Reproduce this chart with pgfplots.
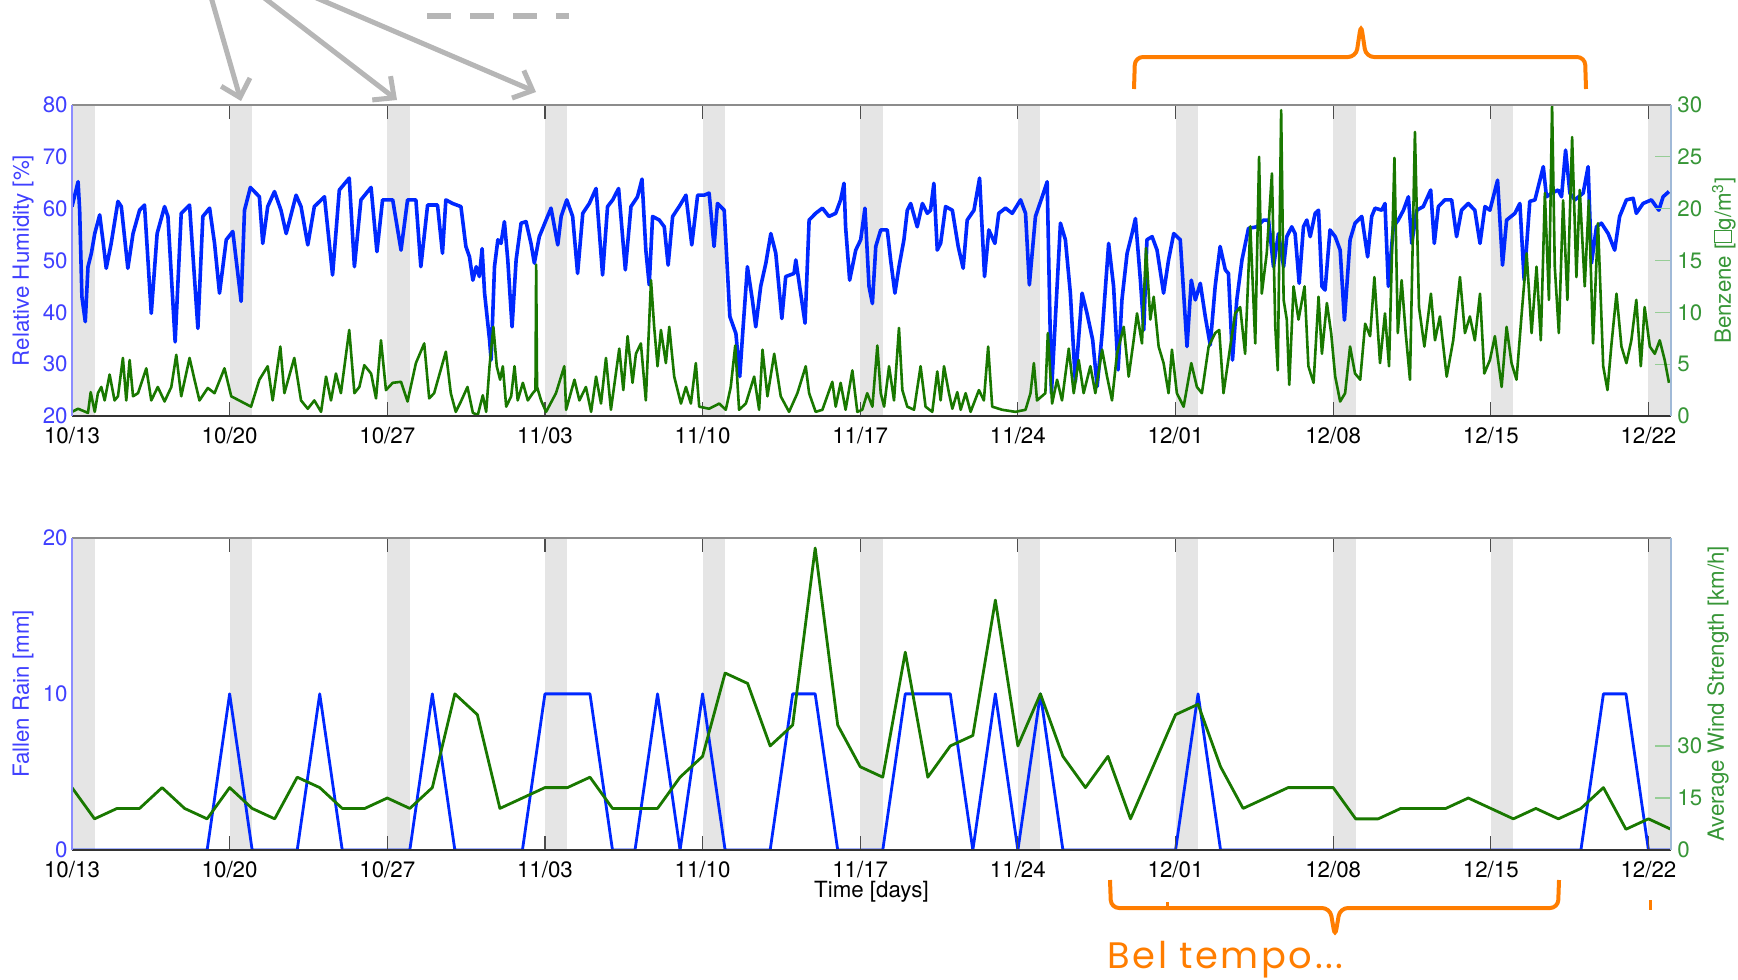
\documentclass[border=0pt]{standalone}
\usepackage{pgfplots}
\pgfplotsset{compat=1.18}
\usepackage{fontspec}
\setmainfont{TeX Gyre Heros}
\newfontfamily\annofont[LetterSpace=7]{Poppins}
\usetikzlibrary{arrows.meta}
\definecolor{rhblue}{RGB}{0,40,255}
\definecolor{bzgreen}{RGB}{25,120,0}
\definecolor{tkblue}{RGB}{64,64,255}
\definecolor{tkgreen}{RGB}{55,150,55}
\definecolor{bandgray}{RGB}{229,229,229}
\definecolor{anno}{RGB}{255,125,0}
\definecolor{arrowgray}{RGB}{182,182,182}
\definecolor{spinegray}{RGB}{140,140,140}
\definecolor{lspine}{RGB}{140,140,255}
\definecolor{rspine}{RGB}{160,185,215}
\definecolor{tickgreen}{RGB}{150,205,150}
\newcommand{\tofu}{{\setlength{\fboxsep}{0pt}\setlength{\fboxrule}{0.45pt}\fbox{\vrule width 0pt height 0.7em\hspace{0.5em}}}}
\newcommand{\axfont}{\fontsize{11.2}{13.4}\selectfont}
\newcommand{\bands}[2]{%
  \fill[bandgray] (axis cs:0,#1) rectangle (axis cs:1,#2);
  \fill[bandgray] (axis cs:7,#1) rectangle (axis cs:8,#2);
  \fill[bandgray] (axis cs:14,#1) rectangle (axis cs:15,#2);
  \fill[bandgray] (axis cs:21,#1) rectangle (axis cs:22,#2);
  \fill[bandgray] (axis cs:28,#1) rectangle (axis cs:29,#2);
  \fill[bandgray] (axis cs:35,#1) rectangle (axis cs:36,#2);
  \fill[bandgray] (axis cs:42,#1) rectangle (axis cs:43,#2);
  \fill[bandgray] (axis cs:49,#1) rectangle (axis cs:50,#2);
  \fill[bandgray] (axis cs:56,#1) rectangle (axis cs:57,#2);
  \fill[bandgray] (axis cs:63,#1) rectangle (axis cs:64,#2);
  \fill[bandgray] (axis cs:70,#1) rectangle (axis cs:71,#2);}
\newcommand{\spines}{%
  \draw[spinegray, line width=1bp] (rel axis cs:0,1) -- (rel axis cs:1,1);
  \draw[black!80, line width=0.8bp] (rel axis cs:0,0) -- (rel axis cs:1,0);
  \draw[lspine, line width=0.6bp] (rel axis cs:0,0) -- (rel axis cs:0,1);
  \draw[rspine, line width=0.6bp] (rel axis cs:1,0) -- (rel axis cs:1,1);}
\pgfplotsset{
  panel/.style={scale only axis, width=799.5bp, xmin=0, xmax=71, anchor=north west,
    tick align=inside, major tick length=7bp,
    /pgf/number format/assume math mode=true,
    tick label style={font=\axfont},
    axis line style={draw=none},
    clip mode=individual},
  leftpanel/.style={panel, axis on top,
    xtick={0,7,...,70},
    xticklabels={10/13,10/20,10/27,11/03,11/10,11/17,11/24,12/01,12/08,12/15,12/22},
    xtick pos=both, xticklabel pos=left,
    x tick style={black!70, line width=0.6bp},
    xticklabel style={text=black, inner sep=0pt, yshift=-5.5bp},
    ytick pos=left, y tick style={draw=none},
    yticklabel style={text=tkblue, inner sep=2bp},
    every axis y label/.style={at={(axis description cs:-0.0306,0.5)}, rotate=90, anchor=center, text=tkblue, font=\axfont}},
  rightpanel/.style={panel, hide x axis,
    ytick pos=right, yticklabel pos=right, major tick length=8bp,
    y tick style={tickgreen, line width=0.6bp},
    yticklabel style={text=tkgreen, inner sep=3bp}},
}
\begin{document}
\begin{tikzpicture}
\path[use as bounding box] (0,0) rectangle (869bp,-490bp);

% ---------------- top panel: humidity (left) ----------------
\begin{axis}[leftpanel, at={(36bp,-52.5bp)}, height=155.5bp,
  ymin=20, ymax=80, ytick={20,30,...,80},
  ylabel={Relative Humidity [\%]}]
\bands{20}{80}
\addplot[rhblue, line width=1.8bp, line join=round] coordinates {
(0,60.4)(0.27,65.2)(0.34,59.7)(0.44,43)(0.59,38.2)(0.71,48.8)(0.86,51.4)(1.01,55.2)(1.23,58.8)(1.37,54)(1.52,48.5)(1.74,53.3)(2.04,61.4)(2.19,60.4)(2.48,48.5)(2.71,55.2)(3,59.7)(3.22,60.7)(3.52,39.8)(3.78,55.2)(4.11,60.4)(4.26,58.5)(4.58,34.3)(4.85,59.1)(5.22,60.7)(5.59,36.9)(5.81,58.5)(6.11,60.1)(6.33,53.3)(6.55,43.7)(6.85,54)(7.14,55.6)(7.51,42.1)(7.66,59.7)(7.92,64.1)(8.32,62.3)(8.47,53.3)(8.69,60.4)(8.99,63.3)(9.28,59.7)(9.51,55.2)(9.95,62.6)(10.17,60.4)(10.47,53)(10.76,60.4)(11.21,62.3)(11.57,47.2)(11.87,63.6)(12.31,65.9)(12.54,48.8)(12.83,61.7)(13.28,64.1)(13.54,51.7)(13.79,61.7)(14.24,61.7)(14.61,52)(14.9,61.7)(15.27,61.7)(15.49,48.8)(15.79,60.7)(16.23,60.7)(16.45,51.4)(16.6,61.7)(16.9,61)(17.27,60.4)(17.49,52.7)
(17.65,50.7)(17.8,46.2)(17.95,48.8)(18.09,46.9)(18.21,52.3)(18.32,43.7)(18.54,34.7)(18.61,30.8)(18.76,48.8)(18.91,54)(19.05,53.3)(19.2,57.5)(19.35,50.1)(19.54,37.2)(19.72,50.1)(19.94,57.2)(20.16,57.5)(20.38,53.3)(20.53,49.5)(20.75,54.6)(21.05,57.8)(21.27,60.1)(21.57,53)(21.72,58.5)(21.97,61.7)(22.23,58.5)(22.45,47.5)(22.68,59.1)(22.97,61)(23.27,63.9)(23.56,47.2)(23.78,60.4)(24.01,61.7)(24.27,63.9)(24.57,48.2)(24.82,60.4)(25.11,62.3)(25.31,65.7)(25.48,52)(25.63,45.3)(25.78,58.5)(26.08,57.8)(26.3,56.5)(26.47,49.1)(26.67,58.5)(26.96,60.4)(27.26,62.6)(27.52,53)(27.78,62.6)(28.07,62.6)(28.29,63)(28.51,52.7)(28.66,61)(28.96,59.7)(29.21,39.2)(29.48,35.9)(29.65,27.6)(29.77,35.3)(29.99,48.8)(30.21,42.4)(30.36,37.2)(30.58,45)(30.81,49.5)(31.03,55.2)(31.25,51.4)(31.52,38.8)(31.69,46.9)(32.06,47.5)(32.14,50.1)(32.31,45)(32.55,37.9)(32.73,57.8)(33.02,59.1)(33.32,60.1)(33.61,58.5)(33.91,59.1)(34.13,61.7)(34.28,64.9)(34.35,56.5)(34.53,46.2)(34.8,52)(35.02,54)(35.21,60.1)
(35.39,45)(35.54,41.7)(35.69,52.7)(35.91,55.9)(36.2,55.9)(36.35,50.1)(36.54,43.7)(36.72,48.8)(36.94,54)(37.09,59.7)(37.24,61)(37.53,56.5)(37.76,61)(37.98,59.1)(38.12,59.7)(38.27,64.9)(38.42,52)(38.57,53.3)(38.79,60.4)(39.09,59.7)(39.35,52.7)(39.57,48.5)(39.75,57.8)(40.05,59.7)(40.3,65.9)(40.52,46.9)(40.71,55.9)(40.98,53.3)(41.15,59.1)(41.45,60.1)(41.75,59.1)(42.12,61.7)(42.34,59.1)(42.51,45.3)(42.78,58.5)(43.08,62.3)(43.3,65.2)(43.49,24.4)(43.67,39.2)(43.89,57.2)(44.11,54)(44.33,43.7)(44.55,26.6)(44.85,43.7)(45.07,39.8)(45.32,34.7)(45.52,25.7)(45.74,35.9)(46.03,53.3)(46.25,45)(46.45,28.9)(46.62,42.4)(46.85,51.4)(47.07,55.2)(47.22,58.1)(47.44,46.2)(47.59,36.6)(47.73,54)(47.96,54.6)(48.18,52)(48.47,43.7)(48.69,50.1)(48.92,55.2)(49.21,54)(49.51,33.4)(49.7,46.2)(49.88,42.4)(50.1,45.6)(50.32,39.2)(50.54,33.7)(50.76,45)(50.98,52.7)(51.21,48.2)(51.35,47.5)(51.53,30.8)(51.72,42.4)(51.95,50.1)(52.24,56.2)(52.61,56.5)(52.91,57.8)
(53.13,57.8)(53.35,48.8)(53.57,55.2)(53.8,48.8)(53.94,54.6)(54.16,56.5)(54.31,55.2)(54.49,45.6)(54.68,56.5)(54.83,57.8)(54.98,54.6)(55.2,59.1)(55.35,59.7)(55.5,45)(55.64,44.3)(55.86,55.9)(56.09,54.6)(56.31,52)(56.5,38.5)(56.75,54)(56.97,57.2)(57.27,58.5)(57.53,50.7)(57.71,58.5)(57.86,60.1)(58.16,59.7)(58.3,61)(58.45,45)(58.67,56.5)(58.89,57.8)(59.12,59.7)(59.34,62.3)(59.49,53.3)(59.71,59.7)(60,60.4)(60.33,63.6)(60.49,53.3)(60.67,60.4)(60.96,61.7)(61.26,61.7)(61.48,54.6)(61.7,59.7)(62,61)(62.29,59.7)(62.52,53.3)(62.74,60.4)(62.96,59.7)(63.3,65.5)(63.52,49.1)(63.7,57.8)(64.07,59.1)(64.29,61)(64.48,46.2)(64.73,61.4)(64.96,61.7)(65.33,68.1)(65.47,62.3)(65.7,63)(65.99,63.6)(66.14,62.3)(66.32,71.3)(66.51,63)(66.73,61.7)(67.1,63)(67.32,68.1)(67.47,49.5)(67.69,56.5)(67.91,57.2)(68.21,55.2)(68.5,52)(68.72,58.5)(69.02,61.7)(69.32,62)(69.46,59.1)(69.76,61)(70.13,61.7)(70.46,59.7)(70.65,62.3)(70.91,63.3)
};
\end{axis}

% ---------------- top panel: benzene (right) ----------------
\begin{axis}[rightpanel, at={(36bp,-52.5bp)}, height=155.5bp,
  ymin=0, ymax=30, ytick={0,5,...,30},
  ylabel={Benzene [\tofu g/m\textsuperscript{3}]},
  every axis y label/.style={at={(axis description cs:1.0331,0.5)}, rotate=90, anchor=center, text=tkgreen, font=\axfont}]
\addplot[bzgreen, line width=1.3bp, line join=round] coordinates {
(0,0.4)(0.27,0.7)(0.71,0.3)(0.83,2.3)(1.01,0.4)(1.15,2.2)(1.3,2.8)(1.45,1.5)(1.67,4.0)(1.89,1.5)(2.04,1.9)(2.26,5.6)(2.41,1.5)(2.56,5.4)(2.71,1.9)(2.93,2.2)(3.3,4.6)(3.52,1.5)(3.81,2.8)(4.11,1.4)(4.41,2.8)(4.63,5.9)(4.85,1.9)(5.22,5.6)(5.44,3.5)(5.66,1.5)(6.03,2.7)(6.33,2.2)(6.77,4.6)(7.07,1.9)(7.51,1.4)(7.95,0.9)(8.32,3.5)(8.69,4.8)(8.91,1.5)(9.25,6.7)(9.43,2.2)(9.87,5.6)(10.17,1.5)(10.47,0.7)(10.76,1.5)(11.06,0.4)(11.28,3.8)(11.5,1.5)(11.72,4.1)(11.94,2.2)(12.31,8.3)(12.54,2.2)(12.76,2.8)(12.98,4.9)(13.28,4.1)(13.5,1.7)(13.72,7.3)(13.94,2.5)(14.24,3.2)(14.61,3.3)(14.9,1.4)(15.27,5.1)(15.64,7)(15.86,1.7)(16.08,2.2)(16.6,6.2)(16.82,2.2)(17.04,0.4)(17.27,1.4)(17.56,2.8)
(17.8,0.3)(18.02,0.1)(18.24,2)(18.39,0.4)(18.54,4.8)(18.71,8.6)(18.86,4.8)(19.01,3.5)(19.13,4.8)(19.28,0.9)(19.5,1.9)(19.65,4.8)(19.79,1.5)(20.02,3.2)(20.24,1.5)(20.46,2.2)(20.58,2.5)(20.61,14.6)(20.65,2.8)(20.83,1.5)(21.05,0.4)(21.49,2.2)(21.86,4.8)(21.94,0.6)(22.31,3.5)(22.53,1.5)(22.82,2.8)(23.05,0.4)(23.27,3.8)(23.49,1.2)(23.71,5.6)(23.93,0.6)(24.3,6.5)(24.48,2.5)(24.67,7.7)(24.89,3.2)(25.04,6)(25.26,7)(25.48,1.5)(25.71,13.1)(25.85,8.6)(26.0,4.8)(26.15,8.3)(26.37,5.1)(26.52,8.6)(26.74,3.8)(27.04,1.2)(27.26,2.8)(27.48,1.2)(27.7,5.1)(27.85,0.9)(28.29,0.7)(28.74,1.2)(29.03,0.6)(29.25,2.8)(29.45,6.8)(29.62,0.6)(29.92,1.2)(30.29,3.8)(30.51,0.6)(30.66,6.4)(30.88,1.9)(31.18,6)(31.47,1.9)(31.84,0.4)(32.21,2.2)(32.58,4.8)(32.73,2.2)(33.02,0.4)(33.32,0.6)(33.76,3.3)(33.91,0.9)(34.13,3.2)(34.35,0.6)(34.65,4.4)(34.87,0.4)(35.09,0.6)(35.31,2.2)
(35.54,0.9)(35.76,6.8)(35.91,2.2)(36.06,0.9)(36.28,4.8)(36.5,1.5)(36.72,8.5)(36.87,2.5)(37.09,0.9)(37.39,0.6)(37.68,4.8)(37.9,0.9)(38.2,0.4)(38.42,4.3)(38.57,1.5)(38.72,4.8)(38.94,2.2)(39.09,0.7)(39.31,2.3)(39.46,0.6)(39.68,2.2)(39.9,0.4)(40.27,2.5)(40.49,1.5)(40.68,6.7)(40.86,0.9)(41.3,0.6)(41.89,0.4)(42.34,0.6)(42.56,2.2)(42.71,5.1)(42.85,1.5)(43.22,2.2)(43.33,8)(43.52,1.2)(43.74,3.5)(43.96,1.5)(44.26,6.5)(44.48,2.2)(44.7,5.4)(44.92,2.2)(45.22,4.8)(45.44,2.2)(45.74,6.4)(45.96,3.8)(46.18,1.5)(46.4,6)(46.7,8.6)(46.92,3.8)(47.14,7.3)(47.29,9.9)(47.51,7)(47.69,16.2)(47.88,9.3)(48.03,11.5)(48.25,6.7)(48.47,5.1)(48.69,2.2)(48.84,6.4)(49.06,2.2)(49.36,0.9)(49.7,5.1)(49.95,2.8)(50.17,2.2)(50.47,6.7)(50.76,8)(50.94,8.3)(51.13,2.2)(51.43,6.7)(51.65,9.9)(51.87,10.5)(52.09,6)(52.32,18.3)(52.54,7)(52.71,25)(52.83,11.8)(53.05,15.7)
(53.28,23.4)(53.43,8.6)(53.54,4.4)(53.69,29.5)(53.8,11.2)(53.94,9.3)(54.05,3)(54.24,12.5)(54.46,9.3)(54.73,12.5)(54.9,4.8)(55.13,3.2)(55.35,11.5)(55.5,6)(55.72,10.9)(55.91,8)(56.09,3.8)(56.31,1.4)(56.53,2.2)(56.75,6.7)(56.97,4.1)(57.2,3.5)(57.42,8.9)(57.64,7.7)(57.83,13.4)(58.08,5.1)(58.3,9.9)(58.48,4.8)(58.72,24.9)(58.87,8)(59.04,13.1)(59.22,8)(59.41,3.5)(59.63,27.4)(59.81,10.5)(60.05,6.7)(60.34,11.8)(60.52,7.3)(60.74,9.6)(61.04,3.8)(61.33,7.3)(61.63,13.4)(61.85,8)(62.07,9.6)(62.29,7.3)(62.52,11.8)(62.71,4.1)(62.96,5.4)(63.18,7.7)(63.48,2.8)(63.7,8.6)(63.92,5.1)(64.14,3.5)(64.36,9.6)(64.59,15.7)(64.81,8)(65.03,14.4)(65.22,7.3)(65.4,21.5)(65.58,11.2)(65.72,30)(65.84,14.4)(66.02,8)(66.21,20.8)(66.4,11.2)(66.61,26.9)(66.8,13.4)(66.95,21.8)(67.17,12.5)(67.35,20.8)(67.54,7)(67.76,18.6)(67.99,4.8)(68.18,2.5)(68.36,7)(68.58,11.8)(68.8,6.7)(69.02,5.1)(69.24,7.3)(69.46,11.2)(69.66,4.8)(69.83,10.5)(70.06,6.7)(70.28,6)(70.5,7.3)(70.72,5.4)(70.91,3.2)
};
\spines
\end{axis}

% ---------------- bottom panel: rain (left) ----------------
\begin{axis}[leftpanel, at={(36bp,-268.8bp)}, height=156.25bp,
  ymin=0, ymax=20, ytick={0,10,20},
  ylabel={Fallen Rain [mm]},
  xlabel={Time [days]},
  every axis x label/.style={at={(axis description cs:0.5,0)}, anchor=center, yshift=-21bp, text=black, font=\axfont}]
\bands{0}{20}
\addplot[rhblue, line width=1.4bp, line join=round] coordinates {
(0,0)(1,0)(2,0)(3,0)(4,0)(5,0)(6,0)(7,10)(8,0)(9,0)(10,0)(11,10)(12,0)(13,0)(14,0)(15,0)(16,10)(17,0)(18,0)(19,0)(20,0)(21,10)(22,10)(23,10)(24,0)(25,0)(26,10)(27,0)(28,10)(29,0)(30,0)(31,0)(32,10)(33,10)(34,0)(35,0)(36,0)(37,10)(38,10)(39,10)(40,0)(41,10)(42,0)(43,10)(44,0)(45,0)(46,0)(47,0)(48,0)(49,0)(50,10)(51,0)(52,0)(53,0)(54,0)(55,0)(56,0)(57,0)(58,0)(59,0)(60,0)(61,0)(62,0)(63,0)(64,0)(65,0)(66,0)(67,0)(68,10)(69,10)(70,0)(71,0)
};
\end{axis}

% ---------------- bottom panel: wind (right) ----------------
\begin{axis}[rightpanel, at={(36bp,-268.8bp)}, height=156.25bp,
  ymin=0, ymax=90, ytick={0,15,30},
  ylabel={Average Wind Strength [km/h]},
  every axis y label/.style={at={(axis description cs:1.0294,0.5)}, rotate=90, anchor=center, text=tkgreen, font=\axfont}]
\addplot[bzgreen, line width=1.4bp, line join=round] coordinates {
(0,18)(1,9)(2,12)(3,12)(4,18)(5,12)(6,9)(7,18)(8,12)(9,9)(10,21)(11,18)(12,12)(13,12)(14,15)(15,12)(16,18)(17,45)(18,39)(19,12)(20,15)(21,18)(22,18)(23,21)(24,12)(25,12)(26,12)(27,21)(28,27)(29,51)(30,48)(31,30)(32,36)(33,87)(34,36)(35,24)(36,21)(37,57)(38,21)(39,30)(40,33)(41,72)(42,30)(43,45)(44,27)(45,18)(46,27)(47,9)(48,24)(49,39)(50,42)(51,24)(52,12)(53,15)(54,18)(55,18)(56,18)(57,9)(58,9)(59,12)(60,12)(61,12)(62,15)(63,12)(64,9)(65,12)(66,9)(67,12)(68,18)(69,6)(70,9)(71,6)
};
\spines
\end{axis}

% ---------------- annotations ----------------
\begin{scope}[arrowgray, line width=2.5bp, -{Straight Barb[length=8bp,width=15bp]}]
\draw (104.5bp,5bp) -- (120.5bp,-50.5bp);
\draw (127bp,5bp) -- (198.5bp,-50bp);
\draw (149bp,5bp) -- (268bp,-46bp);
\end{scope}
\draw[arrowgray, line width=3bp, dash pattern=on 12bp off 9.5bp] (213.5bp,-8bp) -- (284.5bp,-8bp);

\draw[anno, line width=2bp, rounded corners=4bp] (567bp,-44.5bp) -- (567.5bp,-28.5bp) -- (678bp,-28.5bp) -- (680.5bp,-12bp) -- (683bp,-28.5bp) -- (792.5bp,-28.5bp) -- (793bp,-44.5bp);
\draw[anno, line width=2bp, rounded corners=4bp] (555bp,-440bp) -- (555.5bp,-454bp) -- (665bp,-454bp) -- (667.5bp,-468.5bp) -- (670bp,-454bp) -- (779bp,-454bp) -- (779.5bp,-440bp);
\draw[anno, line width=1.5bp] (583.5bp,-454bp) -- (583.5bp,-451bp);
\draw[anno, line width=1.5bp] (825bp,-450bp) -- (825bp,-455bp);
\node[anchor=base west, inner sep=0pt, text=anno, font=\annofont\fontsize{18.5}{21}\selectfont] at (553.5bp,-484bp) {Bel tempo...};
\end{tikzpicture}
\end{document}
